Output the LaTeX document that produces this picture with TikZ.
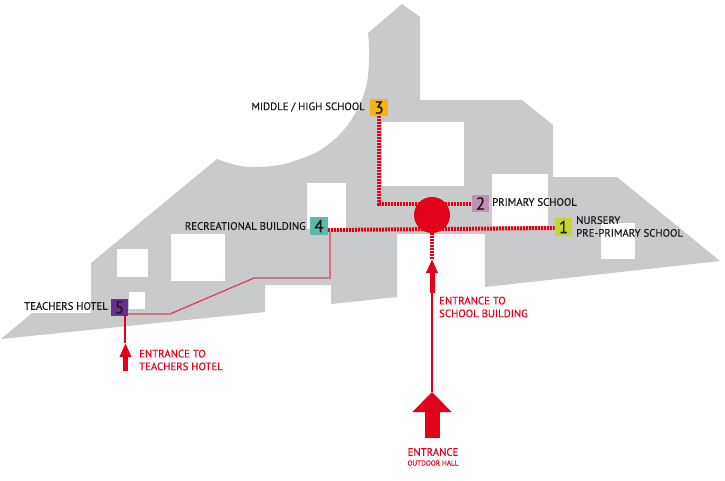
\documentclass[tikz,border=0pt]{standalone}
\usepackage{fontspec}
\setmainfont{PT Sans}[RawFeature={embolden=0.35}]
\usetikzlibrary{arrows.meta}
\definecolor{sitegray}{HTML}{C9CACC}
\definecolor{routered}{HTML}{E2001A}
\tikzset{
	badge/.style={minimum size=17.5pt,inner sep=0pt,font=\fontsize{17.5}{17.5}\selectfont,text=black!90},
	lbl/.style={inner sep=0pt,font=\fontsize{10.8}{12.8}\selectfont,text=black!90,align=left},
	redlbl/.style={lbl,text=routered},
	mainroute/.style={routered,line width=4pt,dash pattern=on 2pt off 1pt},
	sideroute/.style={routered!85,line width=1.2pt,dash pattern=on 1.5pt off 0.5pt},
	smallarrow/.style={routered,line width=5pt,-{Triangle[length=14pt,width=11pt]}},
	bigarrow/.style={routered,line width=15pt,-{Triangle[length=20pt,width=38pt]}}
}
\begin{document}
\begin{tikzpicture}[x=1pt,y=-1pt]
	\useasboundingbox (0,0) rectangle (725,480);
	
	\fill[sitegray] (1,339) -- (32,313) -- (91,313) -- (91,263) -- (217,159)
		.. controls (230,164) and (241,167) .. (253,167)
		.. controls (270,167) and (285,165) .. (297,160)
		.. controls (313,155) and (322,150) .. (330,143)
		.. controls (342,134) and (348,125) .. (353,117)
		.. controls (360,106) and (364,95) .. (367,83)
		.. controls (369,72) and (370,50) .. (368,33)
		-- (402,4) -- (420,17) -- (420,100) -- (522,100) -- (553,125) -- (553,177) -- (617,177)
		-- (720,261) -- (485,287) -- (485,234) -- (397,234) -- (397,297) -- (331,304) -- (331,285)
		-- (265,285) -- (265,312) -- cycle;
	
	\foreach \xa/\ya/\xb/\yb in {382/122/464/186,492/174/548/226,601/223/635/259,307/183/346/229,171/234/225/281,117/249/148/277,129/292/145/309}{
		\fill[white] (\xa,\ya) rectangle (\xb,\yb);
	}
	
	\node[badge,fill={rgb,255:red,200;green,212;blue,47}] (b1) at (563.5,227) {1};
	\node[badge,fill={rgb,255:red,192;green,143;blue,181}] (b2) at (480.5,203.5) {2};
	\node[badge,fill={rgb,255:red,249;green,178;blue,22}] (b3) at (379,107.5) {3};
	\node[badge,fill={rgb,255:red,91;green,185;blue,174}] (b4) at (319,226) {4};
	\node[badge,fill={rgb,255:red,106;green,47;blue,142}] (b5) at (119.5,307.5) {5};
	
	\node[lbl,anchor=east] (l3) at (365,107) {MIDDLE / HIGH SCHOOL};
	\node[lbl,anchor=east] (l4) at (306,226) {RECREATIONAL BUILDING};
	\node[lbl,anchor=east] (l5) at (108,306) {TEACHERS HOTEL};
	\node[lbl,anchor=west] (l2) at (492,202) {PRIMARY SCHOOL};
	\node[lbl,anchor=west] (l1) at (576,226.5) {NURSERY\\PRE-PRIMARY SCHOOL};
	\node[redlbl,anchor=west] (e1) at (439,307) {ENTRANCE TO\\SCHOOL BUILDING};
	\node[redlbl,anchor=west] (e2) at (139,360) {ENTRANCE TO\\TEACHERS HOTEL};
	\node[redlbl,anchor=center] (e3) at (433,452) {ENTRANCE};
	\node[redlbl,anchor=center,font=\fontsize{7.2}{8}\selectfont] (e4) at (433,463) {OUTDOOR HALL};
	
	\draw[mainroute] (b3.south) -- (b3.south |- b2.west) -- (b2.west);
	\draw[mainroute] ([yshift=-4pt]b4.east) -- ([yshift=-1pt]b1.west);
	
	\node[circle,fill=routered,minimum size=36pt,inner sep=0pt] (hub) at (432,215) {};
	
	\coordinate (a1tip) at (432,259);
	\coordinate (a1tail) at (432,293);
	\coordinate (a2tip) at (432,392);
	\coordinate (a2tail) at (432,438);
	\coordinate (a3tip) at (125.5,343);
	\coordinate (a3tail) at (125.5,371);
	\coordinate (a3top) at (125,316);
	\coordinate (a3end) at (125,343);
	\coordinate (s1) at (170,314);
	\coordinate (s2) at (254,278);
	\coordinate (s3) at (330,278);
	\coordinate (s4) at (330,232);
	
	\draw[mainroute] (hub.south) -- (a1tip);
	\draw[smallarrow] (a1tail) -- (a1tip);
	\draw[routered,line width=1.6pt] (a1tail) -- (a2tip);
	\draw[bigarrow] (a2tail) -- (a2tip);
	
	\draw[sideroute] ([yshift=-6.5pt]b5.east) -- (s1) -- (s2) -- (s3) -- (s4);
	\draw[sideroute,routered,line width=1.4pt] (a3top) -- (a3end);
	\draw[smallarrow] (a3tail) -- (a3tip);
\end{tikzpicture}
\end{document}
